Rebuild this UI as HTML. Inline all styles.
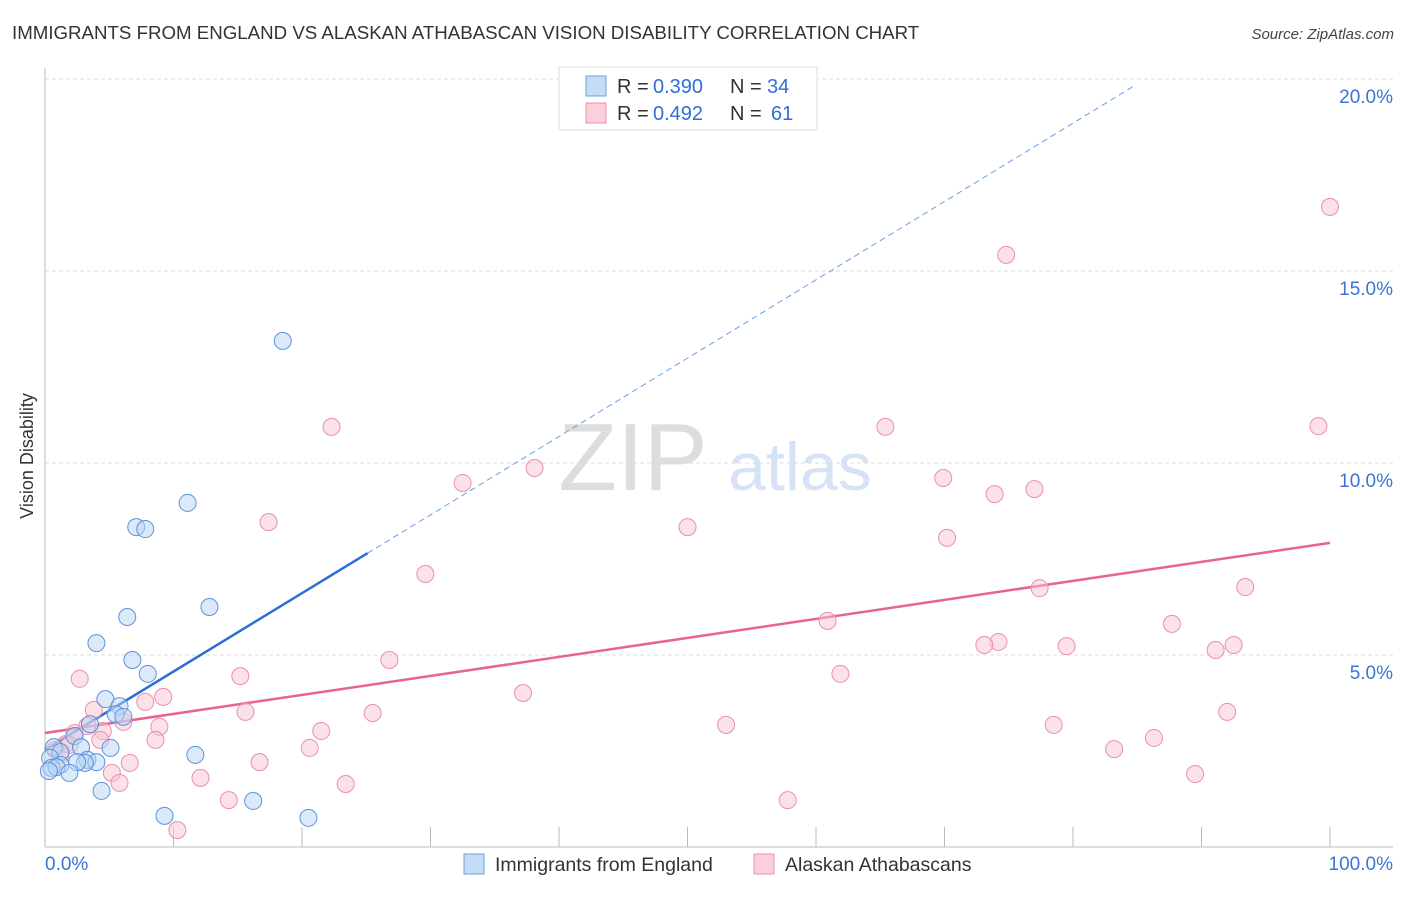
<!DOCTYPE html>
<html><head><meta charset="utf-8"><style>
body{margin:0;background:#fff;font-family:"Liberation Sans",sans-serif;}
svg text{font-family:"Liberation Sans",sans-serif;}
</style></head><body>
<svg id="chart" width="1406" height="892">
<text x="12" y="39" font-size="18.7" fill="#333">IMMIGRANTS FROM ENGLAND VS ALASKAN ATHABASCAN VISION DISABILITY CORRELATION CHART</text>
<text x="1394" y="39" font-size="15" fill="#444" text-anchor="end" font-style="italic">Source: ZipAtlas.com</text>
<text x="33" y="456" font-size="18" fill="#333" text-anchor="middle" transform="rotate(-90 33 456)">Vision Disability</text>
<text x="633" y="490" font-size="96" fill="#ddd" font-family="Liberation Serif" text-anchor="middle">ZIP</text>
<text x="800" y="490" font-size="68" fill="#d6e3f5" text-anchor="middle">atlas</text>
<g id="grid"></g><g id="axes"></g><g id="trend"></g><g id="pts"></g>
<g>
<rect x="559" y="67" width="258" height="63" fill="#fff" stroke="#ddd"/>
<rect x="586" y="76" width="20" height="20" fill="#c5dbf6" stroke="#6a9fe0"/>
<rect x="586" y="103" width="20" height="20" fill="#fbd0dc" stroke="#ec8fad"/>
<text x="617" y="93" font-size="20" fill="#333">R =</text>
<text x="653" y="93" font-size="20" fill="#2f6fd8">0.390</text>
<text x="730" y="93" font-size="20" fill="#333">N =</text>
<text x="767" y="93" font-size="20" fill="#2f6fd8">34</text>
<text x="617" y="120" font-size="20" fill="#333">R =</text>
<text x="653" y="120" font-size="20" fill="#2f6fd8">0.492</text>
<text x="730" y="120" font-size="20" fill="#333">N =</text>
<text x="771" y="120" font-size="20" fill="#2f6fd8">61</text>
</g>
<g>
<rect x="464" y="854" width="20" height="20" fill="#c5dbf6" stroke="#6a9fe0"/>
<text x="495" y="871" font-size="19.5" fill="#333">Immigrants from England</text>
<rect x="754" y="854" width="20" height="20" fill="#fbd0dc" stroke="#ec8fad"/>
<text x="785" y="871" font-size="19.5" fill="#333">Alaskan Athabascans</text>
</g>
</svg>
<script>
const yTicks=[5,10,15,20];
const yTickLabels=["5.0%","10.0%","15.0%","20.0%"];
const xTickLabels=["0.0%","100.0%"];
const blueX=[18.5,11.1,7.1,7.8,12.8,6.4,4.0,6.8,8.0,4.7,5.8,5.5,6.1,3.5,2.3,0.7,2.8,5.1,1.2,0.4,3.3,4.0,3.1,1.2,2.5,0.5,0.9,1.9,0.3,11.7,4.4,16.2,9.3,20.5];
const blueY=[13.18,8.96,8.33,8.28,6.25,5.99,5.31,4.87,4.51,3.85,3.67,3.46,3.39,3.20,2.89,2.60,2.60,2.58,2.47,2.32,2.27,2.21,2.19,2.14,2.21,2.06,2.08,1.93,1.98,2.40,1.46,1.20,0.81,0.76];
const pinkX=[100,74.8,22.3,65.4,99.1,38.1,32.5,69.9,77.0,73.9,17.4,50.0,70.2,29.6,77.4,93.4,60.9,87.7,74.2,73.1,79.5,92.5,91.1,26.8,2.7,15.2,61.9,37.2,9.2,7.8,3.8,15.6,25.5,92.0,6.1,53.0,78.5,8.9,21.5,4.5,2.3,8.6,86.3,1.6,20.6,83.2,0.8,6.6,16.7,5.2,89.5,12.1,5.8,23.4,14.3,57.8,10.3,1.9,3.3,1.2,4.3];
const pinkY=[16.67,15.42,10.94,10.94,10.96,9.87,9.48,9.61,9.32,9.19,8.46,8.33,8.05,7.11,6.74,6.77,5.89,5.81,5.34,5.26,5.23,5.26,5.13,4.87,4.38,4.45,4.51,4.01,3.91,3.78,3.57,3.52,3.49,3.52,3.26,3.18,3.18,3.13,3.02,3.02,2.97,2.79,2.84,2.68,2.58,2.55,2.53,2.19,2.21,1.93,1.90,1.80,1.67,1.64,1.22,1.22,0.44,2.66,3.15,2.40,2.79];
const blueTrend=[2.53,0.204]; // intercept, slope
const pinkTrend=[2.97,0.0495];
const NS="http://www.w3.org/2000/svg";
const xs=v=>45+v*12.85, ys=v=>847-v*38.4;
function mk(tag,attrs,parent){const e=document.createElementNS(NS,tag);for(const k in attrs)e.setAttribute(k,attrs[k]);document.getElementById(parent).appendChild(e);return e;}
yTicks.forEach((t,i)=>{
 const l=mk('line',{x1:45,x2:1393,y1:ys(t),y2:ys(t),stroke:'#ddd','stroke-dasharray':'4,3'},'grid');
 
 
 const tx=mk('text',{x:1393,y:ys(t)+24,'font-size':19,fill:'#3b74d4','text-anchor':'end'},'grid');
 tx.textContent=yTickLabels[i];
 
 
});
const ax=mk('line',{x1:45,x2:45,y1:68,y2:847,stroke:'#bbb'},'axes');


const bx=mk('line',{x1:45,x2:1393,y1:847,y2:847,stroke:'#bbb'},'axes');


for(let v=10;v<=100;v+=10){const t=mk('line',{x1:xs(v),x2:xs(v),y1:827,y2:847,stroke:'#bbb'},'axes');
 
 }
[[0,'start',45],[100,'end',1393]].forEach((a,i)=>{const t=mk('text',{x:a[2],y:870,'font-size':19,fill:'#3b74d4','text-anchor':a[1]},'axes');t.textContent=xTickLabels[i];
 
 });
function pts(X,Y,fill,stroke,name){X.forEach((x,i)=>{const c=mk('circle',{cx:xs(x),cy:ys(Y[i]),r:8.5,fill:fill,stroke:stroke,'stroke-width':1,'fill-opacity':0.5},'pts');
 
 });}
pts(pinkX,pinkY,'#f8c3d2','#ec8fad','pink-point');
pts(blueX,blueY,'#b9d3f3','#5a94de','blue-point');
const f=(t,x)=>t[0]+t[1]*x;
const bl=mk('line',{x1:xs(0),y1:ys(f(blueTrend,0)),x2:xs(25.1),y2:ys(f(blueTrend,25.1)),stroke:'#2a6fd6','stroke-width':2.5},'trend');


const bd=mk('line',{x1:xs(25.1),y1:ys(f(blueTrend,25.1)),x2:xs(84.8),y2:ys(f(blueTrend,84.8)),stroke:'#6a9fe0','stroke-width':1,'stroke-dasharray':'6,4'},'trend');


const pl=mk('line',{x1:xs(0),y1:ys(f(pinkTrend,0)),x2:xs(100),y2:ys(f(pinkTrend,100)),stroke:'#e8638e','stroke-width':2.5},'trend');


</script>
</body></html>
